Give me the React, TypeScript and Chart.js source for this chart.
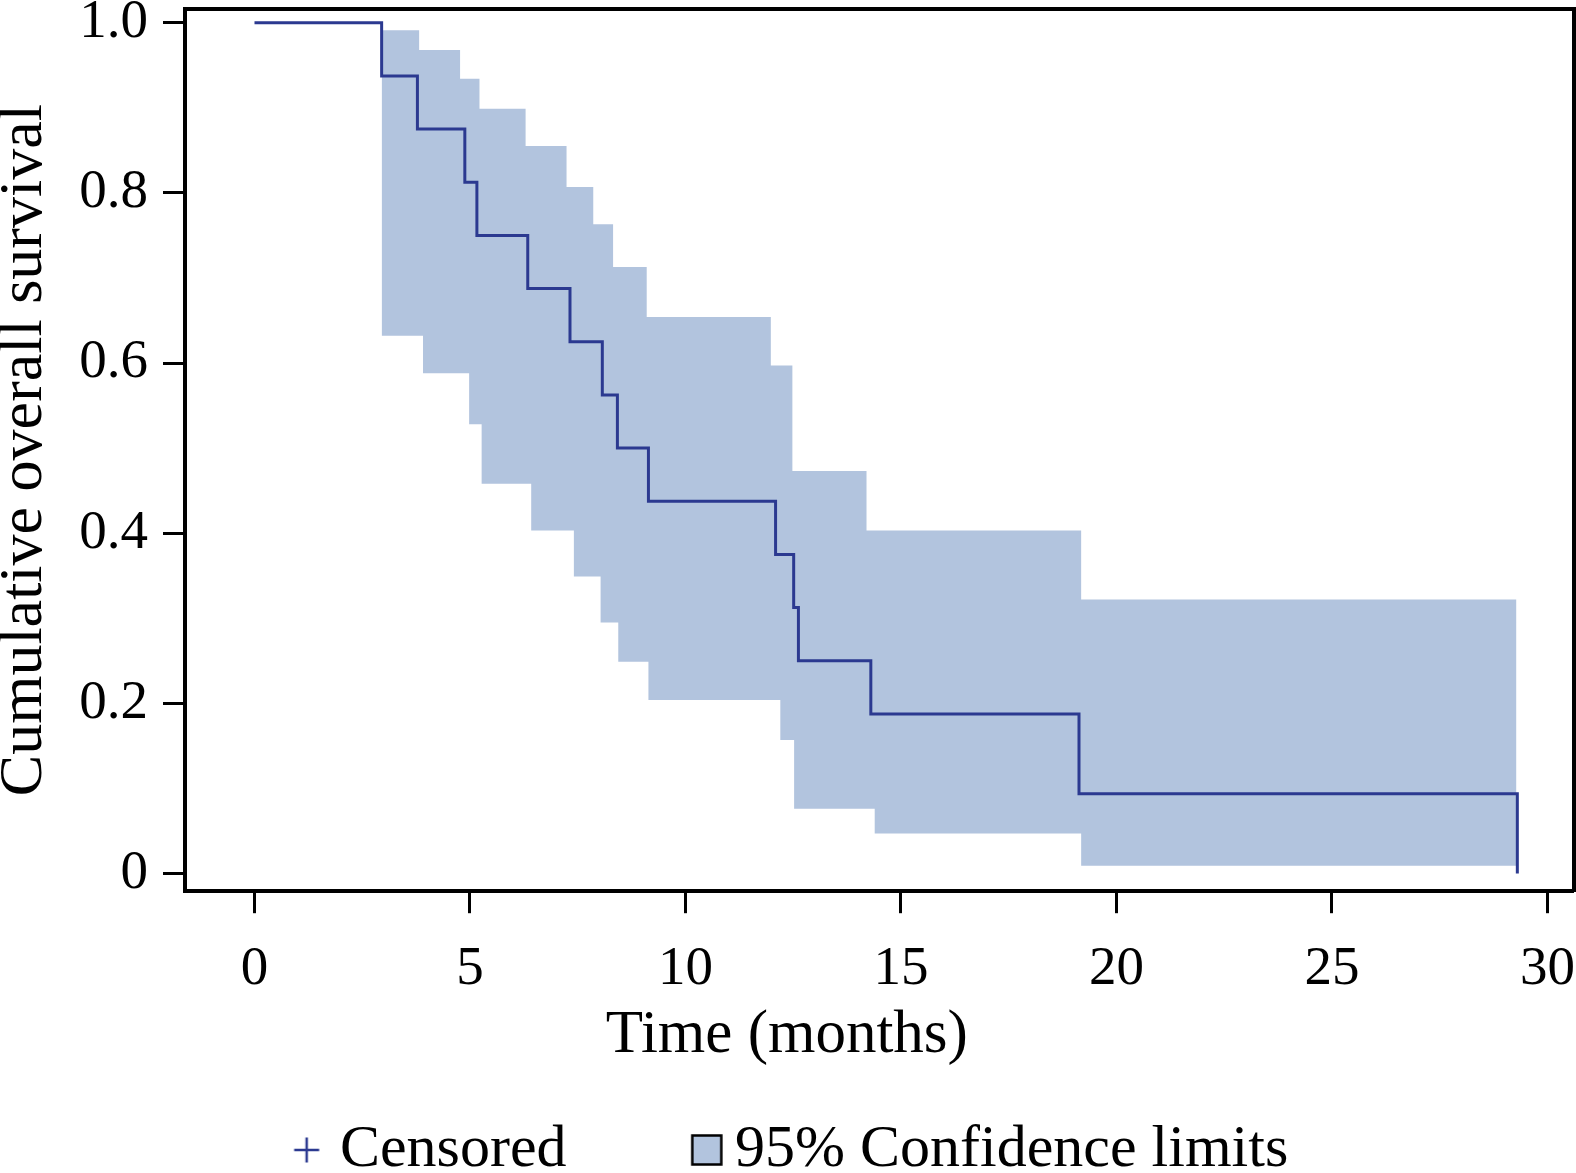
import React, { useEffect, useRef } from 'react';
import { Chart, registerables } from 'chart.js';

Chart.register(...registerables);

// Kaplan–Meier estimate (time in months, survival after each event)
const kmTime = [0, 2.95, 3.78, 4.88, 5.16, 6.34, 7.32, 8.07, 8.42, 9.14, 12.09, 12.51, 12.62, 14.3, 19.13, 29.3];
const kmSurvival = [1, 0.9375, 0.875, 0.8125, 0.75, 0.6875, 0.625, 0.5625, 0.5, 0.4375, 0.375, 0.3125, 0.25, 0.1875, 0.09375, 0];

// 95% confidence limits (step functions)
const ciUpperTime = [2.95, 3.82, 4.77, 5.22, 6.29, 7.24, 7.86, 8.32, 9.1, 11.98, 12.48, 14.2, 19.18, 29.28];
const ciUpper = [0.991, 0.968, 0.934, 0.899, 0.855, 0.807, 0.763, 0.713, 0.654, 0.597, 0.473, 0.403, 0.322, 0.322];
const ciLowerTime = [2.95, 3.91, 4.98, 5.27, 6.42, 7.41, 8.03, 8.44, 9.14, 12.2, 12.52, 14.39, 19.18, 29.28];
const ciLower = [0.632, 0.588, 0.528, 0.458, 0.403, 0.349, 0.295, 0.249, 0.204, 0.157, 0.076, 0.047, 0.009, 0.009];

const xTickValues = [0, 5, 10, 15, 20, 25, 30];
const xTickLabels = ['0', '5', '10', '15', '20', '25', '30'];
const yTickValues = [0, 0.2, 0.4, 0.6, 0.8, 1.0];
const yTickLabels = ['0', '0.2', '0.4', '0.6', '0.8', '1.0'];

const xTitle = 'Time (months)';
const yTitle = 'Cumulative overall survival';
const legendLabels = ['Censored', '95% Confidence limits'];

const LINE = '#2b3990';
const BAND = '#b2c4de';
const FONT = "'Liberation Serif', 'Times New Roman', serif";
const LEGEND_FONT = 60;
const LEGEND_W = 24.5;

function makeCrossIcon(): HTMLCanvasElement {
  const c = document.createElement('canvas');
  c.width = 80;
  c.height = 40;
  const g = c.getContext('2d')!;
  const cx = 40 + 9;
  const cy = 20;
  g.strokeStyle = LINE;
  g.lineWidth = 2.5;
  g.beginPath();
  g.moveTo(cx - 12.5, cy);
  g.lineTo(cx + 12.5, cy);
  g.moveTo(cx, cy - 12.5);
  g.lineTo(cx, cy + 12.5);
  g.stroke();
  return c;
}

function makeBoxIcon(): HTMLCanvasElement {
  const c = document.createElement('canvas');
  c.width = 80;
  c.height = 40;
  const g = c.getContext('2d')!;
  g.fillStyle = BAND;
  g.fillRect(39.5, 5.5, 29, 29);
  g.strokeStyle = '#000';
  g.lineWidth = 2.5;
  g.strokeRect(39.5, 5.5, 29, 29);
  return c;
}

export default function App() {
  const ref = useRef<HTMLCanvasElement>(null);

  useEffect(() => {
    const canvas = ref.current;
    if (!canvas) return;
    Chart.defaults.font.family = FONT;
    const crossIcon = makeCrossIcon();
    const boxIcon = makeBoxIcon();

    const chart = new Chart(canvas, {
      type: 'line',
      data: {
        datasets: [
          {
            label: 'Survival',
            data: kmTime.map((t, i) => ({ x: t, y: kmSurvival[i] })),
            stepped: true,
            borderColor: LINE,
            borderWidth: 3,
            pointRadius: 0,
            fill: false,
            xAxisID: 'x',
            yAxisID: 'y',
          },
          {
            label: 'Upper 95% CL',
            data: ciUpperTime.map((t, i) => ({ x: t, y: ciUpper[i] })),
            stepped: true,
            borderColor: 'rgba(0,0,0,0)',
            borderWidth: 0,
            pointRadius: 0,
            backgroundColor: BAND,
            fill: '+1',
            xAxisID: 'x',
            yAxisID: 'y',
          },
          {
            label: 'Lower 95% CL',
            data: ciLowerTime.map((t, i) => ({ x: t, y: ciLower[i] })),
            stepped: true,
            borderColor: 'rgba(0,0,0,0)',
            borderWidth: 0,
            pointRadius: 0,
            fill: false,
            xAxisID: 'x',
            yAxisID: 'y',
          },
        ],
      },
      options: {
        responsive: false,
        animation: false,
        events: [],
        layout: { padding: { left: 0, top: 9, right: 2.3, bottom: 2 } },
        scales: {
          x: {
            type: 'linear',
            position: 'bottom',
            min: -1.6125,
            max: 30.608,
            afterBuildTicks: (s: any) => {
              s.ticks = xTickValues.map((v) => ({ value: v }));
            },
            afterFit: (s: any) => {
              s.height = 105.3;
              s.paddingLeft = 0;
              s.paddingRight = 0;
            },
            ticks: {
              callback: (_v: any, i: number) => xTickLabels[i],
              font: { size: 55, family: FONT, lineHeight: 1.2 },
              color: '#000',
              padding: 23,
              maxRotation: 0,
              autoSkip: false,
            },
            grid: { display: true, drawOnChartArea: false, drawTicks: true, tickLength: 22, tickWidth: 3, tickColor: '#000' },
            border: { display: true, color: '#000', width: 4 },
          },
          y: {
            type: 'linear',
            position: 'left',
            min: -0.02082,
            max: 1.01611,
            afterBuildTicks: (s: any) => {
              s.ticks = yTickValues.map((v) => ({ value: v }));
            },
            afterFit: (s: any) => {
              s.width = 185;
              s.paddingTop = 0;
              s.paddingBottom = 0;
            },
            ticks: {
              callback: (_v: any, i: number) => yTickLabels[i],
              font: { size: 55, family: FONT, lineHeight: 1.2 },
              color: '#000',
              padding: 15,
            },
            grid: { display: true, drawOnChartArea: false, drawTicks: true, tickLength: 22, tickWidth: 3, tickColor: '#000' },
            border: { display: true, color: '#000', width: 4 },
            title: {
              display: true,
              text: yTitle,
              color: '#000',
              font: { size: 62, family: FONT, lineHeight: 0.8 },
              padding: { top: 0, bottom: 0 },
            },
          },
          x2: {
            type: 'linear',
            position: 'top',
            min: -1.6125,
            max: 30.608,
            ticks: { display: false },
            grid: { display: true, drawOnChartArea: false, drawTicks: false },
            border: { display: true, color: '#000', width: 4 },
            afterFit: (s: any) => {
              s.height = 0;
            },
          },
          y2: {
            type: 'linear',
            position: 'right',
            min: -0.02082,
            max: 1.01611,
            ticks: { display: false },
            grid: { display: true, drawOnChartArea: false, drawTicks: false },
            border: { display: true, color: '#000', width: 4 },
            afterFit: (s: any) => {
              s.width = 0;
            },
          },
        },
        plugins: {
          tooltip: { enabled: false },
          legend: {
            display: true,
            position: 'bottom',
            align: 'center',
            title: {
              display: true,
              text: xTitle,
              color: '#000',
              font: { size: 61, family: FONT, lineHeight: '1px' as any },
              padding: { top: 8.5, bottom: 0 },
            },
            labels: {
              usePointStyle: true,
              pointStyleWidth: LEGEND_W,
              padding: 114,
              color: '#000',
              font: { size: LEGEND_FONT, family: FONT },
              generateLabels: () => [
                {
                  text: legendLabels[0],
                  pointStyle: crossIcon as any,
                  fillStyle: LINE,
                  strokeStyle: LINE,
                  lineWidth: 0,
                  hidden: false,
                  datasetIndex: 0,
                  fontColor: '#000',
                },
                {
                  text: legendLabels[1],
                  pointStyle: boxIcon as any,
                  fillStyle: BAND,
                  strokeStyle: '#000',
                  lineWidth: 0,
                  hidden: false,
                  datasetIndex: 1,
                  fontColor: '#000',
                },
              ],
            },
          },
        },
      } as any,
    });

    return () => chart.destroy();
  }, []);

  return (
    <div
      style={{
        position: 'absolute',
        left: 0,
        top: 0,
        width: 1576,
        height: 1173,
        overflow: 'hidden',
        background: '#fff',
      }}
    >
      <canvas ref={ref} width={1576} height={1192} style={{ display: 'block', width: 1576, height: 1192 }} />
    </div>
  );
}
